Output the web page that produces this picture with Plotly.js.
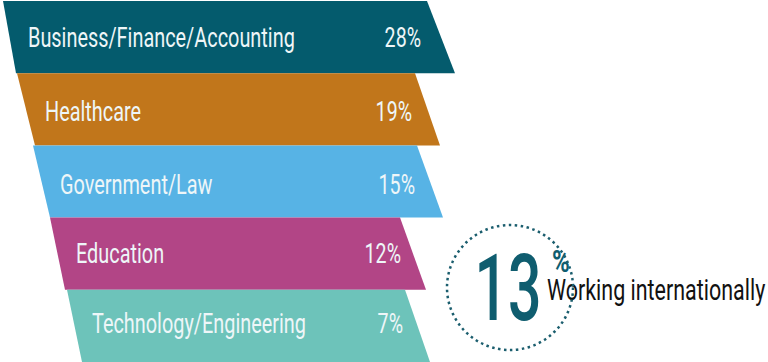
<!DOCTYPE html>
<html>
<head>
<meta charset="utf-8">
<script src="https://cdn.plot.ly/plotly-3.0.1.min.js"></script>
<style>html,body{margin:0;padding:0;background:#fff;}#chart{width:768px;height:362px;}</style>
</head>
<body>
<div id="chart"></div>
<script>
// ---- data ----
const categories = ["Business/Finance/Accounting", "Healthcare", "Government/Law", "Education", "Technology/Engineering"];
const values = [28, 19, 15, 12, 7];
const valueLabels = values.map(v => v + "%");
const highlightValue = 13;
const highlightLabel = "Working internationally";

// ---- style / geometry (pixel space) ----
const colors = ["#045B6D", "#C1761B", "#57B3E5", "#B24586", "#6DC3BA"];
const bandTop0 = 1, bandH = 72.2;
const leftTop = [3, 17, 33, 50, 67];
const leftBottom = [16, 35, 50, 65, 82];
const rightTop = [427, 415, 417, 400, 405];
const rightBottom = [455, 440, 443, 426, 430];
const labelX = [28, 45, 60, 76, 92];
const valueX = [421, 412, 415, 401, 403];
const textY = [40, 114, 187, 256, 326];
const FONT = "Roboto, 'Open Sans', sans-serif";
const TEXTCOL = "#EEF6F8";
const TEAL = "#0F5D6F";

const traces = [];
categories.forEach((c, i) => {
  const t = bandTop0 + i * bandH, b = t + bandH;
  traces.push({
    type: "scatter", mode: "lines", fill: "toself",
    x: [leftTop[i], rightTop[i], rightBottom[i], leftBottom[i], leftTop[i]],
    y: [t, t, b, b, t],
    fillcolor: colors[i], line: {width: 0, color: colors[i]},
    hoverinfo: "skip", showlegend: false
  });
});

function textTrace(x, y, text, pos, font, sx) {
  return {type: "scatter", mode: "text", x: x, y: y, text: text, textposition: pos,
          textfont: font, hoverinfo: "skip", showlegend: false, meta: {sx: sx}};
}
traces.push(textTrace(labelX, textY, categories, "middle right", {family: FONT, size: 28, color: TEXTCOL}, 0.71));
traces.push(textTrace(valueX, textY, valueLabels, "middle left", {family: FONT, size: 28, color: TEXTCOL}, 0.70));
traces.push(textTrace([508], [297], [String(highlightValue)], "middle center", {family: FONT, size: 92, color: TEAL, weight: 500}, 0.64));
traces.push(textTrace([561], [264], ["%"], "middle center", {family: FONT, size: 32, color: TEAL, weight: 700}, 0.75));
traces.push(textTrace([547], [293], [highlightLabel], "middle right", {family: FONT, size: 29, color: "#111111"}, 0.74));

const layout = {
  width: 768, height: 362,
  margin: {l: 0, r: 0, t: 0, b: 0},
  paper_bgcolor: "#ffffff", plot_bgcolor: "#ffffff",
  xaxis: {range: [0, 768], visible: false, fixedrange: true},
  yaxis: {range: [362, 0], visible: false, fixedrange: true},
  shapes: [{
    type: "circle", xref: "x", yref: "y", x0: 447, x1: 573, y0: 225, y1: 350,
    line: {color: "#1B5E6E", width: 2.5, dash: "2.5px,3.5px"}
  }]
};
Plotly.newPlot("chart", traces, layout, {displayModeBar: false, staticPlot: true}).then(gd => {
  // condense the glyphs horizontally around each text's anchor point
  gd.querySelectorAll(".scatterlayer .trace").forEach(tr => {
    const d = tr.__data__ && tr.__data__[0] && tr.__data__[0].trace;
    if (!d || !d.meta || !d.meta.sx) return;
    const sx = d.meta.sx;
    tr.querySelectorAll(".textpoint text").forEach(el => {
      const x = parseFloat(el.getAttribute("x")) || 0;
      el.setAttribute("transform", `translate(${x},0) scale(${sx},1) translate(${-x},0)`);
    });
  });
});
</script>
</body>
</html>
